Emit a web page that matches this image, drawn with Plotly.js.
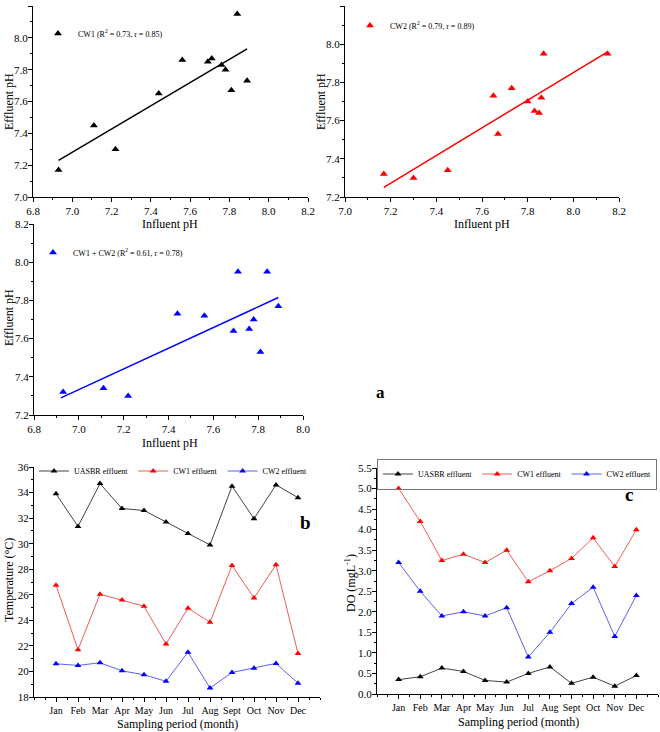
<!DOCTYPE html>
<html>
<head>
<meta charset="utf-8">
<script src="https://cdn.plot.ly/plotly-3.0.1.min.js"></script>
<style>html,body{margin:0;padding:0;background:#fff}#chart{width:660px;height:732px}</style>
</head>
<body>
<div id="chart"></div>
<script>
// ---- Data ----
const cw1Influent = [6.93, 7.11, 7.22, 7.44, 7.56, 7.69, 7.71, 7.76, 7.78, 7.81, 7.84, 7.89];
const cw1Effluent = [7.17, 7.45, 7.30, 7.65, 7.86, 7.85, 7.87, 7.83, 7.80, 7.67, 8.15, 7.73];
const cw1FitX = [6.93, 7.89];
const cw1FitY = [7.23, 7.93];

const cw2Influent = [7.17, 7.30, 7.45, 7.65, 7.67, 7.73, 7.80, 7.83, 7.85, 7.86, 7.87, 8.15];
const cw2Effluent = [7.32, 7.30, 7.34, 7.73, 7.53, 7.77, 7.70, 7.65, 7.64, 7.72, 7.95, 7.95];
const cw2FitX = [7.17, 8.15];
const cw2FitY = [7.25, 7.96];

const combInfluent = [6.93, 7.11, 7.22, 7.44, 7.56, 7.69, 7.71, 7.76, 7.78, 7.81, 7.84, 7.89];
const combEffluent = [7.32, 7.34, 7.30, 7.73, 7.72, 7.64, 7.95, 7.65, 7.70, 7.53, 7.95, 7.77];
const combFitX = [6.92, 7.89];
const combFitY = [7.29, 7.815];

const monthIndex = [1, 2, 3, 4, 5, 6, 7, 8, 9, 10, 11, 12];
const monthLabels = ["Jan", "Feb", "Mar", "Apr", "May", "Jun", "Jul", "Aug", "Sept", "Oct", "Nov", "Dec"];

const tempUASBR = [33.9, 31.35, 34.7, 32.75, 32.6, 31.7, 30.8, 29.9, 34.5, 31.95, 34.6, 33.6];
const tempCW1 = [26.75, 21.7, 26.05, 25.6, 25.1, 22.15, 24.95, 23.85, 28.3, 25.75, 28.35, 21.4];
const tempCW2 = [20.6, 20.47, 20.68, 20.05, 19.74, 19.23, 21.5, 18.7, 19.92, 20.25, 20.63, 19.08];

const doUASBR = [0.35, 0.42, 0.63, 0.55, 0.33, 0.29, 0.50, 0.66, 0.26, 0.41, 0.19, 0.45];
const doCW1 = [5.0, 4.2, 3.25, 3.4, 3.2, 3.5, 2.73, 3.0, 3.3, 3.8, 3.1, 4.0];
const doCW2 = [3.2, 2.5, 1.9, 2.0, 1.9, 2.1, 0.9, 1.5, 2.2, 2.6, 1.4, 2.4];

// ---- Layout helpers ----
const W = 660, H = 732;
const FONT = "Liberation Serif, Times New Roman, serif";
const px = (a, b) => [a / W, b / W];
const py = (top, bottom) => [1 - bottom / H, 1 - top / H];

function axisBase(extra) {
  return Object.assign({
    showline: true, linecolor: "#000", linewidth: 1,
    ticks: "outside", ticklen: 4, tickwidth: 1, tickcolor: "#000",
    showgrid: false, zeroline: false, mirror: false,
    tickfont: {family: FONT, size: 11, color: "#000"},
    automargin: false
  }, extra);
}
const minorTicks = d => ({ticks: "outside", ticklen: 2, dtick: d, tickcolor: "#000", showgrid: false});
const titleFont = {family: FONT, size: 12, color: "#000"};
const tri = (color, size) => ({symbol: "triangle-up", size: size || 7, color: color});

const traces = [
  {x: cw1Influent, y: cw1Effluent, type: "scatter", mode: "markers", marker: tri("#000"),
   name: "CW1 (R<sup>2</sup> = 0.73, r = 0.85)", xaxis: "x", yaxis: "y", legend: "legend"},
  {x: cw1FitX, y: cw1FitY, type: "scatter", mode: "lines", line: {color: "#000", width: 1.5},
   showlegend: false, xaxis: "x", yaxis: "y"},
  {x: cw2Influent, y: cw2Effluent, type: "scatter", mode: "markers", marker: tri("#ff0000"),
   name: "CW2 (R<sup>2</sup> = 0.79, r = 0.89)", xaxis: "x2", yaxis: "y2", legend: "legend2"},
  {x: cw2FitX, y: cw2FitY, type: "scatter", mode: "lines", line: {color: "#ff0000", width: 1.5},
   showlegend: false, xaxis: "x2", yaxis: "y2"},
  {x: combInfluent, y: combEffluent, type: "scatter", mode: "markers", marker: tri("#0000ff"),
   name: "CW1 + CW2 (R<sup>2</sup> = 0.61, r = 0.78)", xaxis: "x3", yaxis: "y3", legend: "legend3"},
  {x: combFitX, y: combFitY, type: "scatter", mode: "lines", line: {color: "#0000ff", width: 1.5},
   showlegend: false, xaxis: "x3", yaxis: "y3"},
  {x: monthIndex, y: tempUASBR, type: "scatter", mode: "lines+markers", name: "UASBR effluent",
   line: {color: "#444", width: 1}, marker: tri("#000", 6), xaxis: "x4", yaxis: "y4", legend: "legend4"},
  {x: monthIndex, y: tempCW1, type: "scatter", mode: "lines+markers", name: "CW1 effluent",
   line: {color: "#f05a5a", width: 1}, marker: tri("#ff0000", 6), xaxis: "x4", yaxis: "y4", legend: "legend4"},
  {x: monthIndex, y: tempCW2, type: "scatter", mode: "lines+markers", name: "CW2 effluent",
   line: {color: "#6060f0", width: 1}, marker: tri("#0000ff", 6), xaxis: "x4", yaxis: "y4", legend: "legend4"},
  {x: monthIndex, y: doUASBR, type: "scatter", mode: "lines+markers", name: "UASBR effluent",
   line: {color: "#444", width: 1}, marker: tri("#000", 6), xaxis: "x5", yaxis: "y5", legend: "legend5"},
  {x: monthIndex, y: doCW1, type: "scatter", mode: "lines+markers", name: "CW1 effluent",
   line: {color: "#f05a5a", width: 1}, marker: tri("#ff0000", 6), xaxis: "x5", yaxis: "y5", legend: "legend5"},
  {x: monthIndex, y: doCW2, type: "scatter", mode: "lines+markers", name: "CW2 effluent",
   line: {color: "#6060f0", width: 1}, marker: tri("#0000ff", 6), xaxis: "x5", yaxis: "y5", legend: "legend5"}
];

const legendBase = {
  font: {family: FONT, size: 8, color: "#000"},
  bgcolor: "rgba(0,0,0,0)", borderwidth: 0,
  xanchor: "left", yanchor: "top", tracegroupgap: 0, itemwidth: 30
};

function label(text, x, y, opts) {
  return Object.assign({text: text, x: x / W, y: 1 - y / H, xref: "paper", yref: "paper",
    xanchor: "center", yanchor: "middle", showarrow: false, font: titleFont}, opts || {});
}

const monthAxis = (dom, anchor) => axisBase({domain: dom, anchor: anchor, range: [0, 13],
  tickmode: "array", tickvals: monthIndex, ticktext: monthLabels, tickangle: 0,
  tickfont: {family: FONT, size: 10, color: "#000"},
  minor: {ticks: "outside", ticklen: 2, tickmode: "linear", tick0: 0, dtick: 0.5, tickcolor: "#000"}});

const layout = {
  width: W, height: H,
  margin: {l: 0, r: 0, t: 0, b: 0},
  paper_bgcolor: "#fff", plot_bgcolor: "#fff",
  font: {family: FONT, color: "#000"},
  showlegend: true,
  xaxis: axisBase({domain: px(33, 308), anchor: "y", range: [6.8, 8.2], dtick: 0.2, tick0: 6.8, tickformat: ".1f", minor: minorTicks(0.1)}),
  yaxis: axisBase({domain: py(6, 197), anchor: "x", range: [7.0, 8.2], dtick: 0.2, tick0: 7.0, tickformat: ".1f", minor: minorTicks(0.1), ticklabelstandoff: -2}),
  xaxis2: axisBase({domain: px(345, 619), anchor: "y2", range: [7.0, 8.2], dtick: 0.2, tick0: 7.0, tickformat: ".1f", minor: minorTicks(0.1)}),
  yaxis2: axisBase({domain: py(6, 197), anchor: "x2", range: [7.2, 8.2], dtick: 0.2, tick0: 7.2, tickformat: ".1f", minor: minorTicks(0.1), ticklabelstandoff: -2}),
  xaxis3: axisBase({domain: px(34, 303), anchor: "y3", range: [6.8, 8.0], dtick: 0.2, tick0: 6.8, tickformat: ".1f", minor: minorTicks(0.1)}),
  yaxis3: axisBase({domain: py(224, 415), anchor: "x3", range: [7.2, 8.2], dtick: 0.2, tick0: 7.2, tickformat: ".1f", minor: minorTicks(0.1), ticklabelstandoff: -2}),
  xaxis4: monthAxis(px(34, 320), "y4"),
  yaxis4: axisBase({domain: py(467, 697), anchor: "x4", range: [18, 36], dtick: 2, tick0: 18, minor: minorTicks(1), ticklabelstandoff: -2}),
  xaxis5: monthAxis(px(377, 658), "y5"),
  yaxis5: axisBase({domain: py(468, 694), anchor: "x5", range: [0, 5.5], dtick: 0.5, tick0: 0, tickformat: ".1f", minor: minorTicks(0.25), ticklabelstandoff: -2}),
  legend: Object.assign({}, legendBase, {x: 38 / W, y: 1 - 19 / H}),
  legend2: Object.assign({}, legendBase, {x: 350 / W, y: 1 - 11 / H}),
  legend3: Object.assign({}, legendBase, {x: 33 / W, y: 1 - 238 / H}),
  legend4: Object.assign({}, legendBase, {x: 34 / W, y: 1 - 471 / H, yanchor: "middle", orientation: "h"}),
  legend5: Object.assign({}, legendBase, {x: 657 / W, xanchor: "right", y: 1 - 474 / H, yanchor: "middle",
    orientation: "h", bordercolor: "#777", borderwidth: 1}),
  annotations: [
    label("Influent pH", 170, 224),
    label("Influent pH", 482, 224),
    label("Influent pH", 170, 443),
    label("Effluent pH", 9, 102, {textangle: -90}),
    label("Effluent pH", 321, 102, {textangle: -90}),
    label("Effluent pH", 9, 318, {textangle: -90}),
    label("Temperature (°C)", 9, 580, {textangle: -90}),
    label("DO (mgL<sup>-1</sup>)", 350, 583, {textangle: -90}),
    label("Sampling period (month)", 177, 724),
    label("Sampling period (month)", 518, 722),
    label("<b>a</b>", 380, 392, {font: {family: FONT, size: 17, color: "#000"}}),
    label("<b>b</b>", 305, 522, {font: {family: FONT, size: 19, color: "#000"}}),
    label("<b>c</b>", 629, 494, {font: {family: FONT, size: 19, color: "#000"}})
  ]
};

Plotly.newPlot("chart", traces, layout, {staticPlot: true, displayModeBar: false});
</script>
</body>
</html>
